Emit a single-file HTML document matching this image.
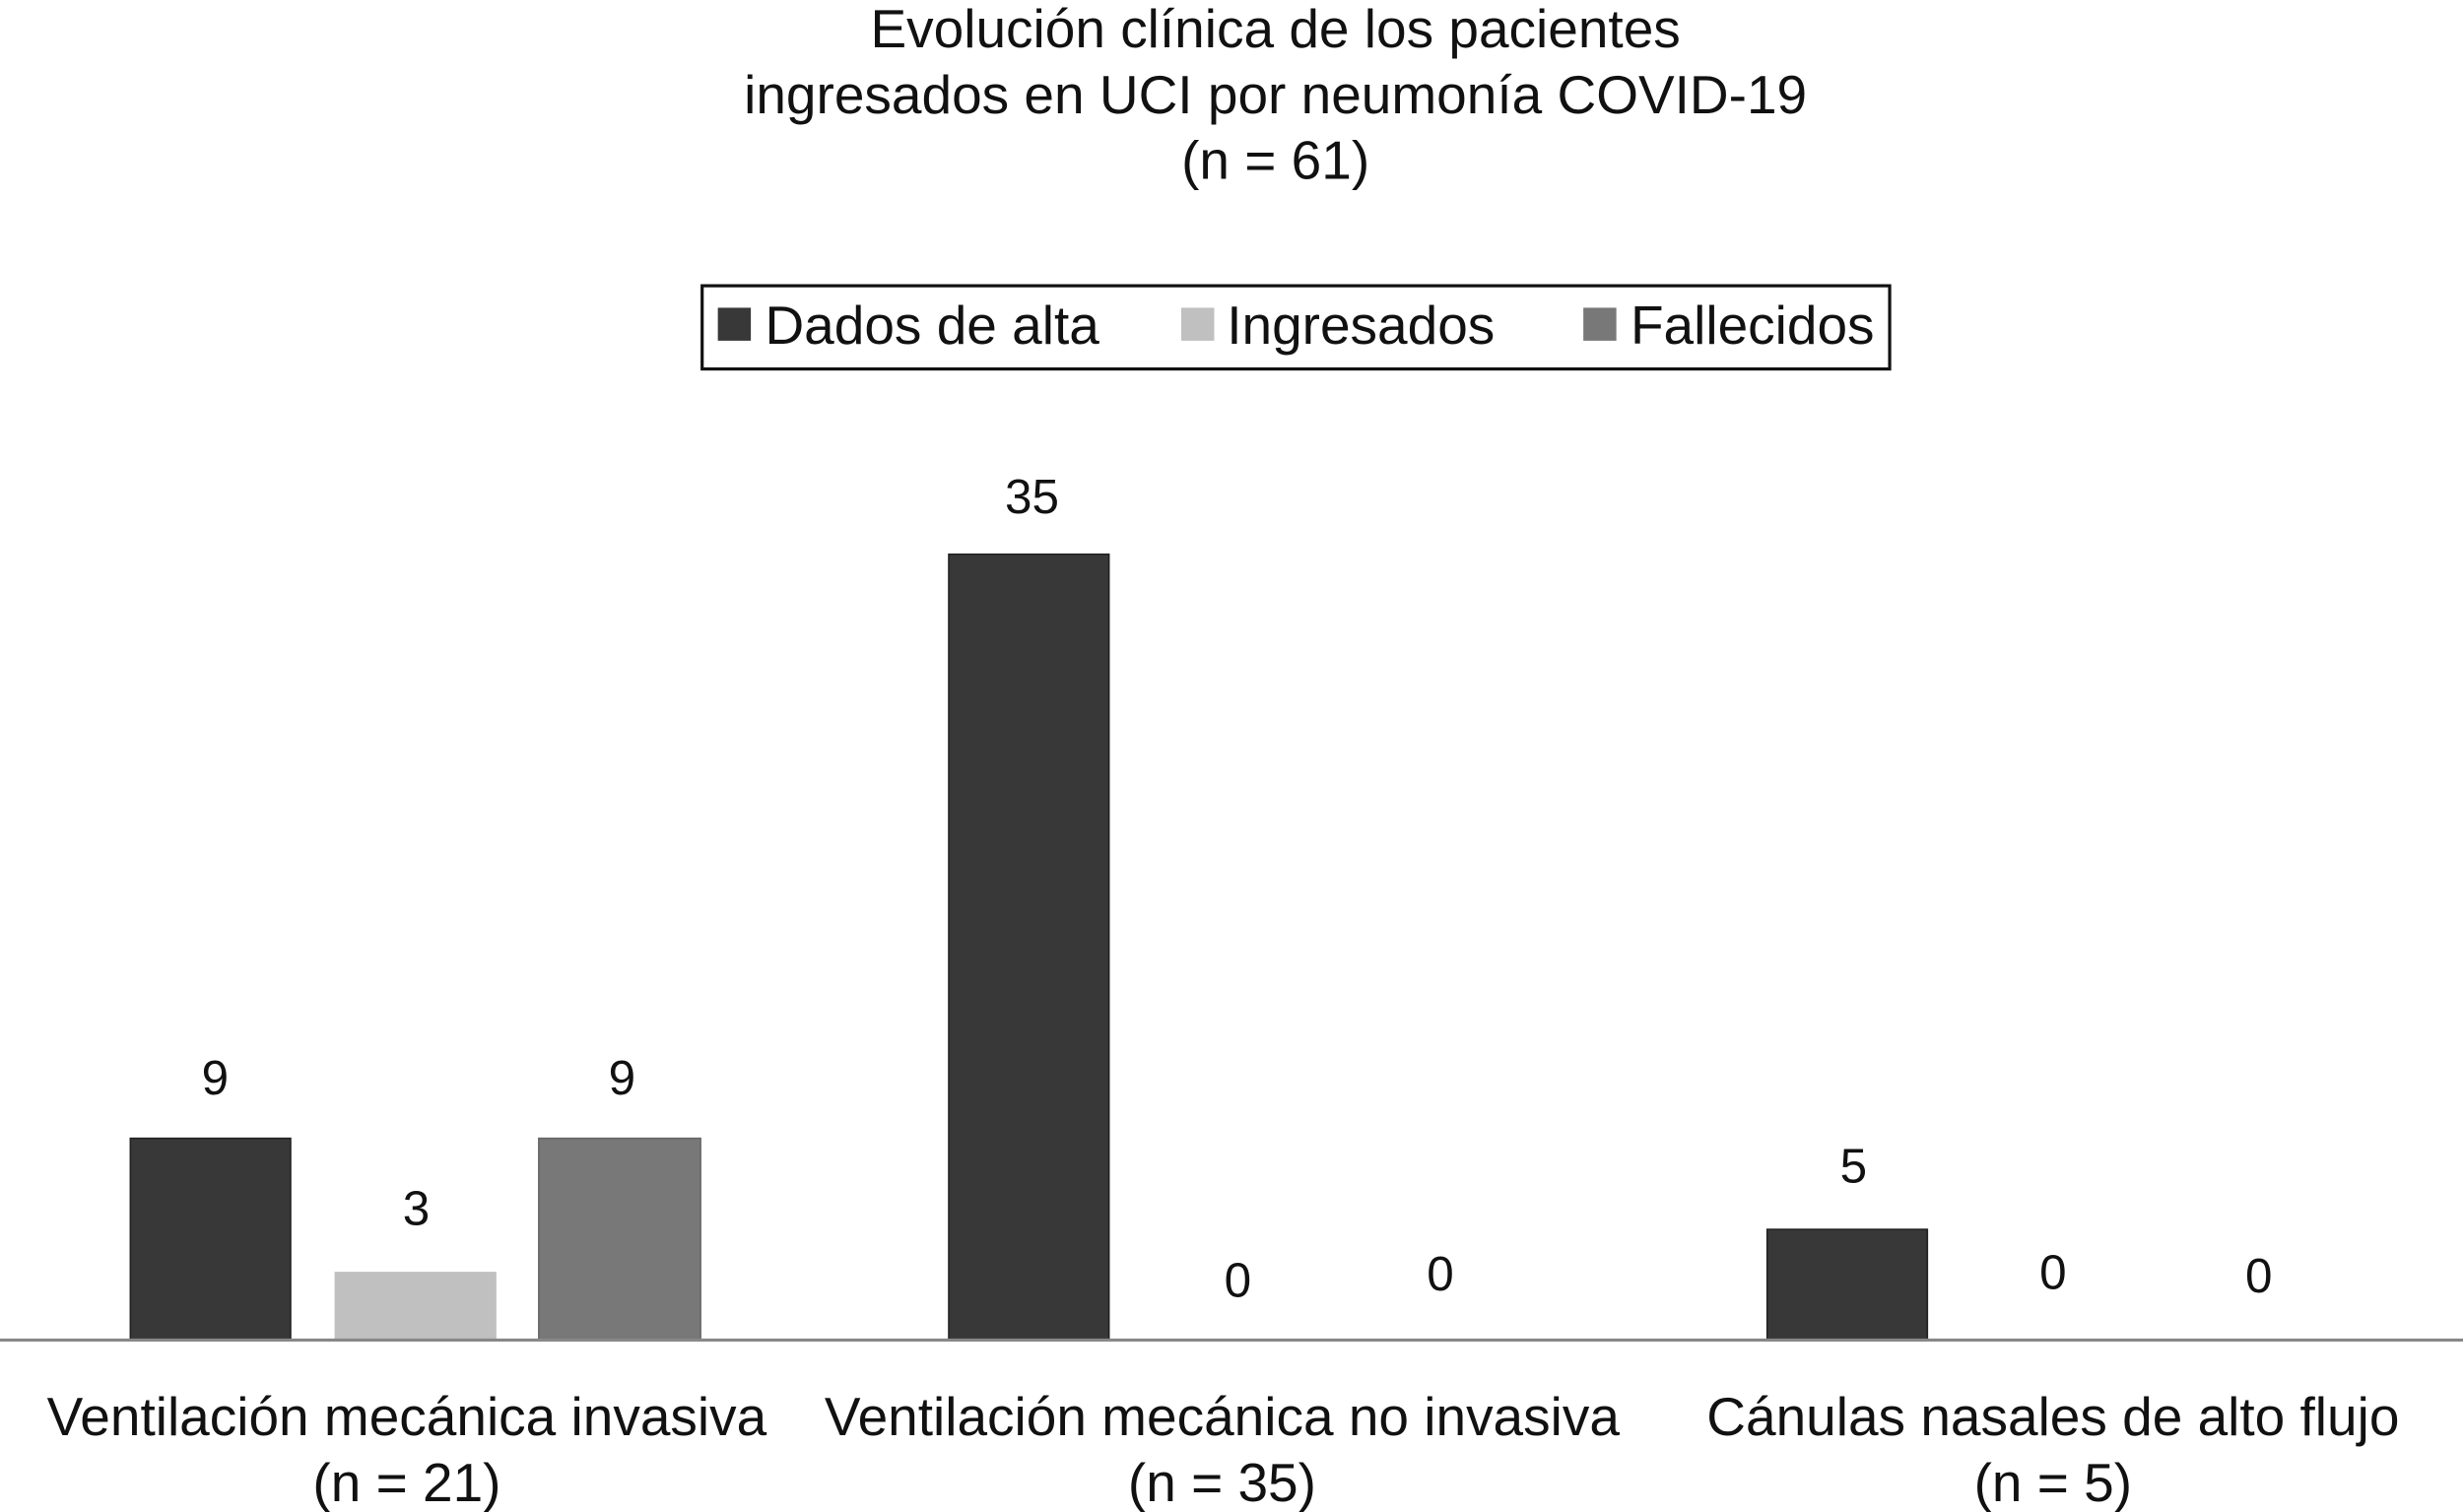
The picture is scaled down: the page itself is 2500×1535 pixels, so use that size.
<!DOCTYPE html>
<html><head><meta charset="utf-8"><style>
html,body{margin:0;padding:0;background:#fff;}
svg{display:block;}
text{font-family:"Liberation Sans",Arial,sans-serif;fill:#111;}
</style></head><body>
<svg width="2500" height="1535" viewBox="0 0 1568 963" preserveAspectRatio="none" xmlns="http://www.w3.org/2000/svg">
<rect width="1568" height="963" fill="#fff"/>
<g font-size="34.5" text-anchor="middle">
<text x="812" y="30">Evolución clínica de los pacientes</text>
<text x="812" y="72">ingresados en UCI por neumonía COVID-19</text>
<text x="812" y="114">(n = 61)</text>
</g>
<rect x="447" y="182" width="756" height="53" fill="#fff" stroke="#111" stroke-width="2"/>
<rect x="457" y="196" width="21" height="21" fill="#383838"/>
<rect x="752" y="196" width="21" height="21" fill="#c0c0c0"/>
<rect x="1008" y="196" width="21" height="21" fill="#787878"/>
<g font-size="34.5">
<text x="487" y="219">Dados de alta</text>
<text x="781" y="219">Ingresados</text>
<text x="1038" y="219">Fallecidos</text>
</g>
<rect x="83" y="725" width="102" height="128" fill="#383838" stroke="#222" stroke-width="1"/>
<rect x="213" y="810" width="103" height="43" fill="#c0c0c0"/>
<rect x="343" y="725" width="103" height="128" fill="#787878" stroke="#666" stroke-width="1"/>
<rect x="604" y="353" width="102" height="500" fill="#383838" stroke="#222" stroke-width="1"/>
<rect x="1125" y="783" width="102" height="70" fill="#383838" stroke="#222" stroke-width="1"/>
<line x1="0" y1="853.5" x2="1568" y2="853.5" stroke="#888" stroke-width="2"/>
<g font-size="31" text-anchor="middle">
<text x="137" y="697">9</text>
<text x="265" y="780">3</text>
<text x="396" y="697">9</text>
<text x="657" y="327">35</text>
<text x="788" y="826">0</text>
<text x="917" y="822">0</text>
<text x="1180" y="753">5</text>
<text x="1307" y="821">0</text>
<text x="1438" y="823">0</text>
</g>
<g font-size="34.5" text-anchor="middle">
<text x="259" y="914">Ventilación mecánica invasiva</text>
<text x="259" y="956">(n = 21)</text>
<text x="778" y="914">Ventilación mecánica no invasiva</text>
<text x="778" y="956">(n = 35)</text>
<text x="1307" y="914">Cánulas nasales de alto flujo</text>
<text x="1307" y="956">(n = 5)</text>
</g>
</svg>
</body></html>
